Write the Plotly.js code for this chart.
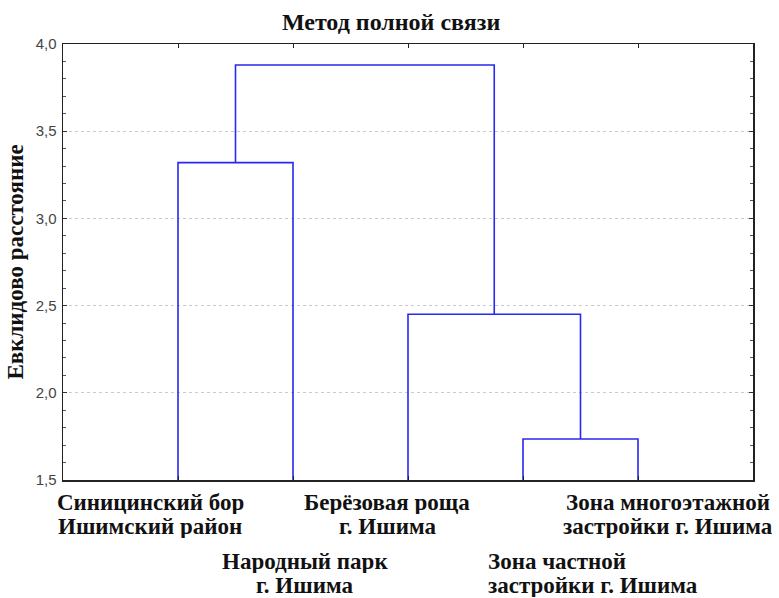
<!DOCTYPE html>
<html>
<head>
<meta charset="utf-8">
<script src="https://cdn.plot.ly/plotly-3.0.1.min.js"></script>
<style>html,body{margin:0;padding:0;background:#fff;}</style>
</head>
<body>
<div id="chart" style="width:779px;height:598px;"></div>
<script>
// Leaves (in dendrogram order)
const leafLabels = [
  "Синицинский бор<br>Ишимский район",
  "Народный парк<br>г. Ишима",
  "Берёзовая роща<br>г. Ишима",
  "Зона частной<br>застройки г. Ишима",
  "Зона многоэтажной<br>застройки г. Ишима"
];
// Linkage: node ids 0..4 are leaves, merges create nodes 5,6,7,8
const mergeA = [3, 2, 0, 7];
const mergeB = [4, 5, 1, 6];
const mergeHeight = [1.735, 2.45, 3.32, 3.88];

const yTickVals = [1.5, 2.0, 2.5, 3.0, 3.5, 4.0];

// label placement (data-x of each label's anchor, row)
const labelX = [0.76, 2.10, 2.82, 3.69, 5.26];
const labelRow = [0, 1, 0, 1, 0];
const labelAnchor = ["center", "center", "center", "left", "center"];
const labelAlign = ["center", "center", "center", "left", "center"];

// build dendrogram geometry through data coordinates
const nodeX = leafLabels.map((_, i) => i + 1);
const nodeH = leafLabels.map(() => 0);
const xs = [], ys = [];
mergeA.forEach((a, k) => {
  const b = mergeB[k], h = mergeHeight[k];
  xs.push(nodeX[a], nodeX[a], nodeX[b], nodeX[b], null);
  ys.push(nodeH[a], h, h, nodeH[b], null);
  nodeX.push((nodeX[a] + nodeX[b]) / 2);
  nodeH.push(h);
});

const trace = {
  x: xs, y: ys, type: 'scatter', mode: 'lines',
  line: {color: '#2828ee', width: 1.6},
  hoverinfo: 'skip', showlegend: false
};

const annotations = [];
leafLabels.forEach((lab, i) => {
  const lines = lab.split('<br>');
  lines.forEach((ln, j) => {
    annotations.push({
      text: '<b>' + ln + '</b>', xref: 'x', yref: 'paper', x: labelX[i],
      y: -0.02 - labelRow[i] * 0.136 - j * 0.055,
      xanchor: labelAnchor[i], yanchor: 'top', showarrow: false,
      align: labelAlign[i], borderpad: 0, height: 24,
      font: {family: 'Liberation Serif, Times New Roman, serif', size: 23, color: '#111'}
    });
  });
});

const layout = {
  width: 779, height: 598,
  margin: {l: 63, r: 26, t: 44, b: 118},
  paper_bgcolor: '#fff', plot_bgcolor: '#fff',
  separators: ', ',
  title: {
    text: '<b>Метод полной связи</b>',
    x: 0.502, xanchor: 'center', y: 0.978, yanchor: 'top',
    font: {family: 'Liberation Serif, Times New Roman, serif', size: 24, color: '#111'}
  },
  xaxis: {
    range: [0, 6], showgrid: false, zeroline: false,
    tickvals: [1, 2, 3, 4, 5], showticklabels: false,
    ticks: 'inside', ticklen: 4, tickcolor: '#222',
    showline: true, linecolor: '#222', linewidth: 1.5, mirror: 'ticks'
  },
  yaxis: {
    range: [1.5, 4.0], tickvals: yTickVals, tickformat: '.1f',
    ticks: 'inside', ticklen: 4, tickcolor: '#333',
    minor: {dtick: 0.1, ticks: 'inside', ticklen: 3, tickcolor: '#555', showgrid: false},
    showgrid: true, gridcolor: '#c6c9dc', griddash: 'dot', gridwidth: 1,
    zeroline: false,
    showline: true, linecolor: '#222', linewidth: 1.5, mirror: 'ticks',
    tickfont: {family: 'Liberation Sans, Arial, sans-serif', size: 15, color: '#444'},
    ticklabelstandoff: 2,
    title: {
      text: '<b>Евклидово расстояние</b>', standoff: 5,
      font: {family: 'Liberation Serif, Times New Roman, serif', size: 23, color: '#111'}
    }
  },
  annotations: annotations
};

Plotly.newPlot('chart', [trace], layout, {displayModeBar: false, staticPlot: true});
</script>
</body>
</html>
